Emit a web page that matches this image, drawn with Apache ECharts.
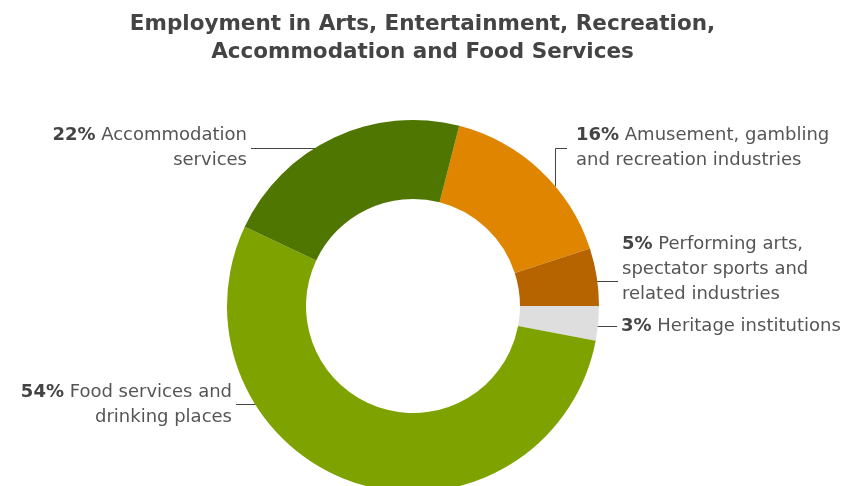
<!DOCTYPE html>
<html>
<head>
<meta charset="utf-8">
<script src="https://cdn.jsdelivr.net/npm/echarts@6/dist/echarts.min.js"></script>
<style>html,body{margin:0;padding:0;background:#fff}#c{width:845px;height:486px}</style>
</head>
<body>
<div id="c"></div>
<script>
const categories = [
  'Amusement, gambling\nand recreation industries',
  'Performing arts,\nspectator sports and\nrelated industries',
  'Heritage institutions',
  'Food services and\ndrinking places',
  'Accommodation\nservices'
];
const values = [16, 5, 3, 54, 22];
const colors = ['#df8500', '#b56400', '#dedede', '#7ea200', '#4e7600'];

// Geometry of the ring (layout, not data)
const CX = 413, CY = 306, R_IN = 107, R_OUT = 186;
function ringX(y, side) { return CX + side * Math.sqrt(R_OUT * R_OUT - (y - CY) * (y - CY)); }
function ringY(x, side) { return CY + side * Math.sqrt(R_OUT * R_OUT - (x - CX) * (x - CX)); }

// Label placement (layout)
const labelPlace = [
  { x: 576, y: 148, align: 'left',  pts: () => [[555.5, ringY(555.5, -1)], [555.5, 148.5], [567, 148.5]] },
  { x: 622, y: 269, align: 'left',  pts: () => [[ringX(281.5, 1) - 1, 281.5], [618, 281.5]] },
  { x: 621, y: 326, align: 'left',  pts: () => [[ringX(326.5, 1) - 1, 326.5], [617, 326.5]] },
  { x: 232, y: 405, align: 'right', pts: () => [[ringX(404.5, -1) + 1, 404.5], [236, 404.5]] },
  { x: 247, y: 148, align: 'right', pts: () => [[ringX(148.5, -1) + 1, 148.5], [251, 148.5]] }
];

const total = values.reduce((s, v) => s + v, 0);
// heritage slice begins at 3 o'clock: start angle follows from the two slices before it
const startAngle = (values[0] + values[1]) / total * 360;

const FONT = 'DejaVu Sans';
const chart = echarts.init(document.getElementById('c'), null, { renderer: 'canvas' });
chart.setOption({
  backgroundColor: '#ffffff',
  animation: false,
  title: {
    text: 'Employment in Arts, Entertainment, Recreation,\nAccommodation and Food Services',
    left: 'center',
    top: 5,
    textStyle: {
      fontFamily: FONT, fontWeight: 'bold', fontSize: 21.5, lineHeight: 28, color: '#444444', align: 'center'
    }
  },
  series: [{
    type: 'pie',
    center: [CX, CY],
    radius: [R_IN, R_OUT],
    startAngle: startAngle,
    clockwise: true,
    avoidLabelOverlap: false,
    data: categories.map((n, i) => ({ name: n, value: values[i], itemStyle: { color: colors[i] } })),
    label: {
      show: true,
      position: 'outside',
      fontFamily: FONT,
      fontSize: 18,
      lineHeight: 25,
      color: '#555555',
      formatter: p => '{p|' + p.value + '%} ' + p.name,
      rich: {
        p: { fontFamily: FONT, fontSize: 18, lineHeight: 25, fontWeight: 'bold', color: '#444444' }
      }
    },
    labelLine: { show: true, smooth: false, lineStyle: { color: '#444444', width: 1 } },
    labelLayout: function (params) {
      const a = labelPlace[params.dataIndex];
      return { x: a.x, y: a.y, align: a.align, verticalAlign: 'middle', labelLinePoints: a.pts() };
    },
    emphasis: { disabled: true }
  }]
});
</script>
</body>
</html>
